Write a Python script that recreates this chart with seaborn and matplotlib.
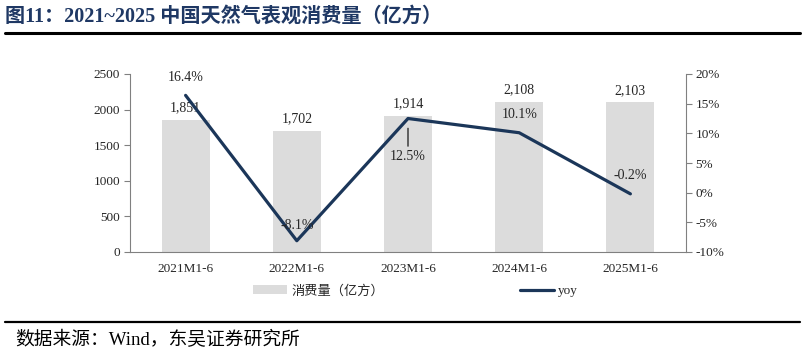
import numpy as np
import pandas as pd
import matplotlib
matplotlib.use("Agg")
import matplotlib.pyplot as plt
import seaborn as sns
from matplotlib.lines import Line2D
from matplotlib.patches import Patch
from matplotlib.ticker import FuncFormatter, FixedLocator

# ---- data ----
categories = ['2021M1-6', '2022M1-6', '2023M1-6', '2024M1-6', '2025M1-6']
consumption = [1851, 1702, 1914, 2108, 2103]      # 亿方
yoy = [16.4, -8.1, 12.5, 10.1, -0.2]               # %

left_ticks = [0, 500, 1000, 1500, 2000, 2500]
right_ticks = [-10, -5, 0, 5, 10, 15, 20]

BAR_COLOR = '#dcdcdc'
LINE_COLOR = '#1b3659'
TITLE_COLOR = '#1f3864'
FAM = ['Liberation Serif', 'Noto Sans CJK SC']

sns.set_theme(style="white")
plt.rcParams['font.family'] = FAM
plt.rcParams['axes.unicode_minus'] = False

df = pd.DataFrame({'cat': categories, 'val': consumption, 'yoy': yoy})

fig = plt.figure(figsize=(8.05, 3.56), dpi=100)
ax = fig.add_axes([130 / 805, 1 - 252 / 356, 556 / 805, 178 / 356])

sns.barplot(data=df, x='cat', y='val', ax=ax, color=BAR_COLOR, width=0.43,
            saturation=1, edgecolor='none')
ax.bar_label(ax.containers[0], labels=[f'{v:,}' for v in consumption],
             padding=4, fontsize=10, family=FAM)

ax.set_xlim(-0.5, len(categories) - 0.5)
ax.set_ylim(0, 2500)
ax.set_yticks(left_ticks)
ax.set_xlabel('')
ax.set_ylabel('')
ax.xaxis.set_minor_locator(FixedLocator(np.arange(0.5, len(categories) - 0.5, 1)))
ax.tick_params(axis='x', which='major', length=0, pad=8, labelsize=9.5)
ax.tick_params(axis='x', which='minor', length=4, direction='in', color='#808080', width=0.8)
ax.tick_params(axis='y', length=4, direction='out', color='#808080', width=0.8,
               labelsize=9.5, pad=3)
for s in ['top', 'right']:
    ax.spines[s].set_visible(False)
for s in ['left', 'bottom']:
    ax.spines[s].set_color('#808080')
    ax.spines[s].set_linewidth(0.8)

ax2 = ax.twinx()
xpos = np.arange(len(categories))
sns.lineplot(x=xpos, y=yoy, ax=ax2, color=LINE_COLOR, linewidth=2.3, sort=False)
ax2.set_ylim(-10, 20)
ax2.set_yticks(right_ticks)
ax2.yaxis.set_major_formatter(FuncFormatter(lambda v, p: f'{v:.0f}%'))
ax2.tick_params(axis='y', length=4, direction='out', color='#808080', width=0.8,
                labelsize=9.5, pad=3)
for s in ['top', 'left', 'bottom']:
    ax2.spines[s].set_visible(False)
ax2.spines['right'].set_color('#808080')
ax2.spines['right'].set_linewidth(0.8)
ax2.set_ylabel('')

# yoy labels (offsets in points)
offsets = [(0, 13), (0, 11), (0, -27), (0, 13), (0, 13)]
for i, (v, off) in enumerate(zip(yoy, offsets)):
    if off[1] < 0:
        ax2.annotate(f'{v:.1f}%', xy=(xpos[i], v), xytext=off, textcoords='offset points',
                     ha='center', va='center', fontsize=10, family=FAM,
                     arrowprops=dict(arrowstyle='-', color='black', lw=0.8,
                                     shrinkA=0, shrinkB=7))
    else:
        ax2.annotate(f'{v:.1f}%', xy=(xpos[i], v), xytext=off, textcoords='offset points',
                     ha='center', va='center', fontsize=10, family=FAM)

# legend
handles = [Patch(facecolor=BAR_COLOR, edgecolor='none', label='消费量（亿方）'),
           Line2D([], [], color=LINE_COLOR, lw=2.3, label='yoy')]
fig.legend(handles=handles, loc='center', bbox_to_anchor=(0.516, 1 - 291 / 356), ncol=2,
           frameon=False, handlelength=2.6, handleheight=0.6,
           handletextpad=0.3, columnspacing=10.3, prop={'family': FAM, 'size': 9.5})

# title and rules
fig.text(5 / 805, 1 - 17 / 356, '图11：2021~2025 中国天然气表观消费量（亿方）',
         ha='left', va='center', fontsize=14.5, fontweight='bold', color=TITLE_COLOR,
         family=FAM)
fig.add_artist(Line2D([5 / 805, 800 / 805], [1 - 33 / 356] * 2, color='black', lw=2.2,
                      transform=fig.transFigure))
fig.add_artist(Line2D([5 / 805, 800 / 805], [1 - 322 / 356] * 2, color='black', lw=1.6,
                      transform=fig.transFigure))
fig.text(15 / 805, 1 - 340 / 356, '数据来源：Wind，东吴证券研究所', ha='left', va='center',
         fontsize=13.5, color='black', family=FAM)

fig.savefig('out.png', dpi=100)
